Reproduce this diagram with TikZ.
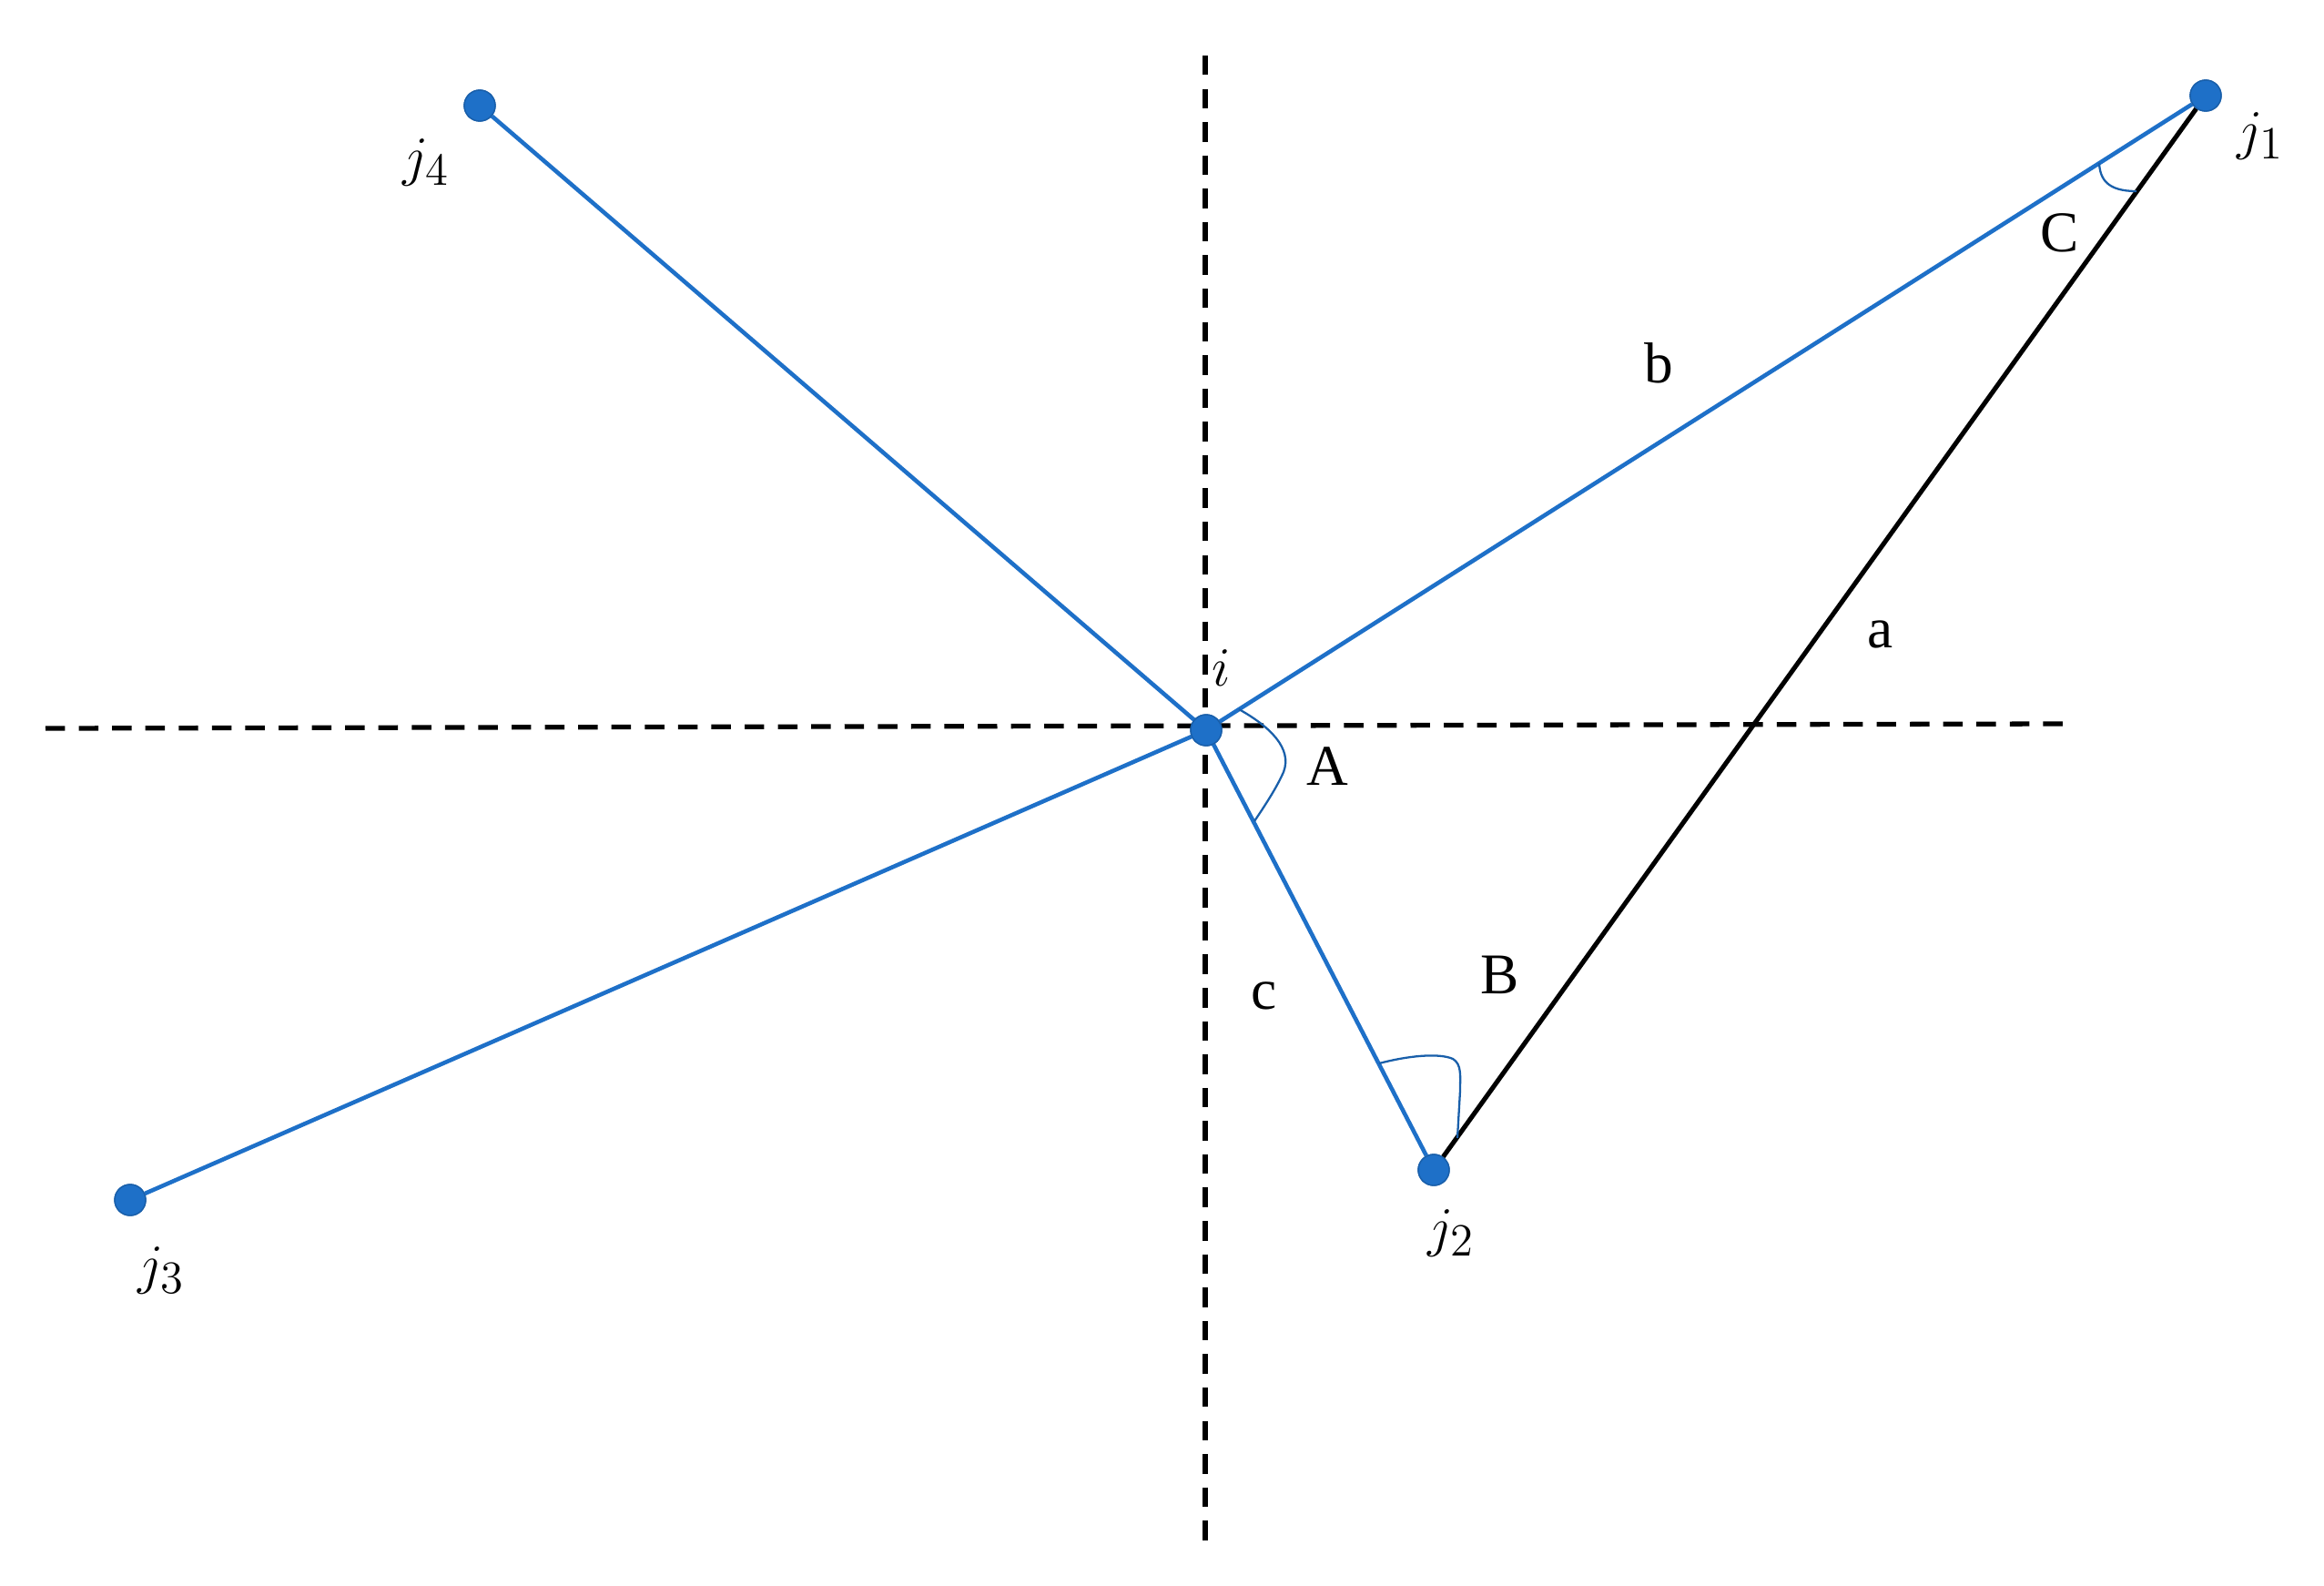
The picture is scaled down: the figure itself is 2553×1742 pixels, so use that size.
\documentclass[tikz,border=0pt]{standalone}
\usepackage{fontspec}
\setmainfont{Liberation Serif}
\DeclareMathSizes{18}{18}{13.5}{10}
\definecolor{lblue}{RGB}{30,112,200}
\begin{document}
\begin{tikzpicture}[x=0.01cm,y=-0.01cm,
  dot/.style={circle,fill=lblue,draw=lblue!85!black,line width=0.4pt,inner sep=0pt,minimum size=0.34cm},
  blueline/.style={lblue,line width=1.3pt},
  blackline/.style={black,line width=1.45pt},
  axisline/.style={black,line width=1.5pt,dash pattern=on 6.1pt off 4.3pt},
  anglearc/.style={lblue!85!black,line width=0.65pt},
  lbl/.style={inner sep=0pt,font=\fontsize{18}{20}\selectfont}]
\useasboundingbox (0,0) rectangle (2553,1742);
% axes
\coordinate (hl) at (50,800);
\coordinate (hr) at (2267,795);
\coordinate (vt) at (1324,61);
\coordinate (vb) at (1324,1697);
\draw[axisline] (hl) -- (hr);
\draw[axisline] (vt) -- (vb);
% points
\node[dot] (i)  at (1325,802) {};
\node[dot] (j1) at (2423,105) {};
\node[dot] (j2) at (1575,1285) {};
\node[dot] (j3) at (143,1318) {};
\node[dot] (j4) at (527,116) {};
% connectors
\draw[blueline] (i.center) -- (j1);
\draw[blueline] (i.center) -- (j2);
\draw[blueline] (i.center) -- (j3);
\draw[blueline] (i.center) -- (j4);
\draw[blackline] (j2) -- (j1);
% redraw dots on top
\node[dot] at (i.center) {};
\node[dot] at (j1.center) {};
\node[dot] at (j2.center) {};
\node[dot] at (j3.center) {};
\node[dot] at (j4.center) {};
% angle marks
\draw[anglearc] (1361,779) .. controls (1395,798) and (1420,822) .. (1410,848) .. controls (1402,866) and (1390,884) .. (1378,902);
\draw[anglearc] (1515,1168) .. controls (1545,1160) and (1580,1156) .. (1596,1163) .. controls (1606,1169) and (1604,1182) .. (1604,1198) -- (1601,1250);
\draw[anglearc] (2306,179) .. controls (2307,196) and (2314,210) .. (2347,210);
% labels
\node[lbl] (li)  at (1342,734) {$i$};
\node[lbl] (lj1) at (2483,149) {$j_1$};
\node[lbl] (lj2) at (1594,1354) {$j_2$};
\node[lbl] (lj3) at (177,1395) {$j_3$};
\node[lbl] (lj4) at (468,178) {$j_4$};
\node[lbl] (lA) at (1458,842) {A};
\node[lbl] (lB) at (1648,1071) {B};
\node[lbl] (lC) at (2263,256) {C};
\node[lbl] (la) at (2066,697) {a};
\node[lbl] (lb) at (1822,399) {b};
\node[lbl] (lc) at (1389,1094) {c};
\end{tikzpicture}
\end{document}
